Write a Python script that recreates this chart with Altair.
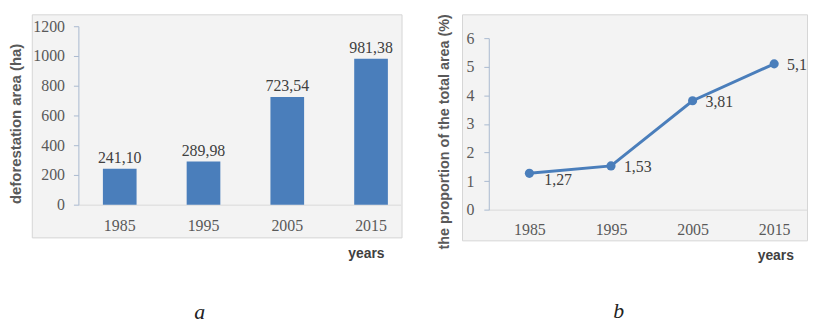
import altair as alt
import pandas as pd

years = ["1985", "1995", "2005", "2015"]
area_ha = [241.10, 289.98, 723.54, 981.38]
share_pct = [1.27, 1.53, 3.81, 5.1]
area_ticks = [0, 200, 400, 600, 800, 1000, 1200]
share_ticks = [0, 1, 2, 3, 4, 5, 6]

df_a = pd.DataFrame({"year": years, "area": area_ha,
                     "label": [f"{v:.2f}".replace(".", ",") for v in area_ha]})
df_b = pd.DataFrame({"year": years, "share": share_pct,
                     "label": [str(v).replace(".", ",") for v in share_pct]})

BLUE = "#4a7ebb"
LABEL_FONT = "Liberation Serif"
TITLE_FONT = "Liberation Sans"
GREY = "#595959"

# ---------- panel a ----------
xa = alt.X("year:N", sort=years,
           scale=alt.Scale(range=[47, 372], paddingInner=0.598, paddingOuter=0.222, align=0.659),
           axis=alt.Axis(offset=-33, ticks=False, tickSize=0, domainColor="#d9d9d9", labelAngle=0,
                         labelFont=LABEL_FONT, labelFontSize=16, labelColor=GREY,
                         labelBaseline="middle", labelPadding=21,
                         title="years", titleFont=TITLE_FONT, titleFontSize=14,
                         titleFontWeight="bold", titleColor="#404040",
                         titleX=337, titleY=49, titleAlign="center", titleBaseline="middle"))
ya = alt.Y("area:Q",
           scale=alt.Scale(domain=[0, 1200], range=[192, 12], nice=False, zero=True),
           axis=alt.Axis(values=area_ticks, tickCount=7, format="d", labelOverlap=False,
                         labelFlush=False, offset=-47, grid=False, tickSize=5,
                         domainColor="#a9b9cf", tickColor="#a9b9cf",
                         labelFont=LABEL_FONT, labelFontSize=16, labelColor=GREY, labelPadding=9,
                         title="deforestation area (ha)", titleFont=TITLE_FONT, titleFontSize=15,
                         titleFontWeight="bold", titleColor=GREY, titleAngle=270,
                         titleX=-63, titleY=110, titleAlign="center", titleBaseline="middle"))

bars = alt.Chart(df_a).mark_bar(color=BLUE).encode(x=xa, y=ya)
bar_text = alt.Chart(df_a).mark_text(dy=-6, baseline="alphabetic", font=LABEL_FONT,
                                     fontSize=16, color="#404040").encode(
    x=xa, y=ya, text="label:N")

panel_a = alt.layer(bars, bar_text).properties(
    width=373, height=225,
    title=alt.TitleParams(text="a", orient="bottom", frame="group", anchor="middle", dx=-17,
                          offset=42, font=LABEL_FONT, fontStyle="italic", fontWeight="normal",
                          fontSize=22, color="#222222"))

# ---------- panel b ----------
xb = alt.X("year:N", sort=years,
           scale=alt.Scale(type="point", range=[27, 348], padding=0.45, align=0.553),
           axis=alt.Axis(offset=-31, ticks=False, tickSize=0, domainColor="#d9d9d9", labelAngle=0,
                         labelFont=LABEL_FONT, labelFontSize=16, labelColor=GREY,
                         labelBaseline="middle", labelPadding=20,
                         title="years", titleFont=TITLE_FONT, titleFontSize=14,
                         titleFontWeight="bold", titleColor="#404040",
                         titleX=316, titleY=46, titleAlign="center", titleBaseline="middle"))
yb = alt.Y("share:Q",
           scale=alt.Scale(domain=[0, 6], range=[197, 24], nice=False, zero=True),
           axis=alt.Axis(values=share_ticks, tickCount=7, format="d", labelOverlap=False,
                         labelFlush=False, offset=-27, grid=False, tickSize=5,
                         domainColor="#a9b9cf", tickColor="#a9b9cf",
                         labelFont=LABEL_FONT, labelFontSize=16, labelColor=GREY, labelPadding=10,
                         title="the proportion of the total area (%)", titleFont=TITLE_FONT,
                         titleFontSize=14.5, titleFontWeight="bold", titleColor=GREY, titleAngle=270,
                         titleX=-45, titleY=118, titleAlign="center", titleBaseline="middle"))

line = alt.Chart(df_b).mark_line(color=BLUE, strokeWidth=3).encode(x=xb, y=yb)
pts = alt.Chart(df_b).mark_circle(color=BLUE, size=85, opacity=1).encode(x=xb, y=yb)
txt_common = dict(align="left", baseline="middle", font=LABEL_FONT, fontSize=16, color="#404040")
lab_first = alt.Chart(df_b).transform_filter(alt.datum.year == "1985").mark_text(
    dx=15, dy=7, **txt_common).encode(x=xb, y=yb, text="label:N")
lab_rest = alt.Chart(df_b).transform_filter(alt.datum.year != "1985").mark_text(
    dx=13, dy=1, **txt_common).encode(x=xb, y=yb, text="label:N")

panel_b = alt.layer(line, pts, lab_first, lab_rest).properties(
    width=348, height=228,
    title=alt.TitleParams(text="b", orient="bottom", frame="group", anchor="middle", dx=-16,
                          offset=39, font=LABEL_FONT, fontStyle="italic", fontWeight="normal",
                          fontSize=22, color="#222222"))

chart = alt.hconcat(panel_a, panel_b, spacing=61, bounds="flush").properties(
    padding={"top": 3, "left": 0, "right": 0, "bottom": 2}, background="white"
).configure_view(fill="#f3f3f3", stroke="#d6d6d6", strokeWidth=1)

chart.save("out.html", embed_options={"renderer": "svg", "actions": False})
